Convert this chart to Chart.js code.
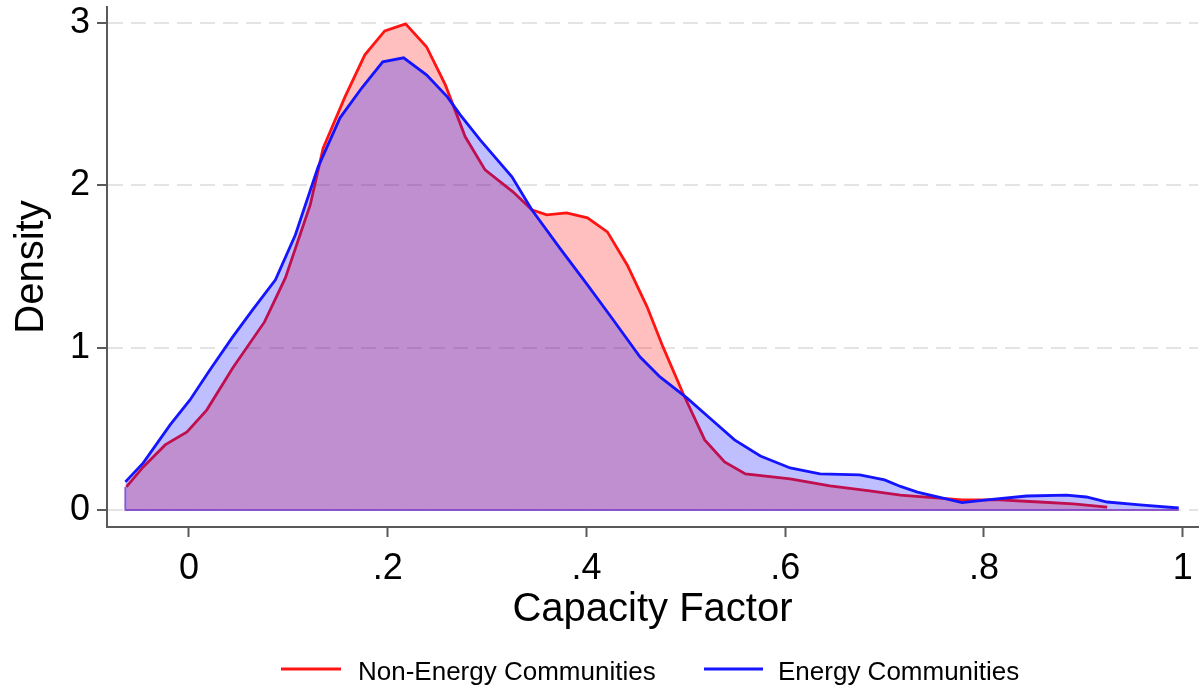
<!DOCTYPE html>
<html>
<head>
<meta charset="utf-8">
<script src="https://cdn.jsdelivr.net/npm/chart.js@4.4.1/dist/chart.umd.min.js"></script>
<style>
  html, body { margin: 0; padding: 0; background: #ffffff; }
  #wrap { width: 1203px; height: 691px; }
</style>
</head>
<body>
<div id="wrap"><canvas id="c" width="1203" height="691"></canvas></div>
<script>
// Kernel density of capacity factor, by community type
const capacityNonEC = [-0.063, -0.046, -0.024, -0.002, 0.018, 0.044, 0.076, 0.097, 0.122, 0.135, 0.157, 0.177, 0.197, 0.218, 0.239, 0.258, 0.278, 0.298, 0.326, 0.345, 0.360, 0.380, 0.401, 0.421, 0.441, 0.461, 0.477, 0.497, 0.519, 0.539, 0.560, 0.605, 0.645, 0.685, 0.716, 0.778, 0.816, 0.856, 0.890, 0.924];
const densityNonEC  = [0.142, 0.265, 0.401, 0.481, 0.617, 0.875, 1.159, 1.430, 1.880, 2.230, 2.546, 2.805, 2.953, 2.996, 2.855, 2.620, 2.300, 2.096, 1.961, 1.850, 1.819, 1.831, 1.800, 1.714, 1.510, 1.252, 1.005, 0.721, 0.432, 0.296, 0.222, 0.191, 0.148, 0.117, 0.092, 0.062, 0.062, 0.049, 0.037, 0.018];

const capacityEC = [-0.064, -0.046, -0.019, 0.001, 0.021, 0.044, 0.064, 0.087, 0.107, 0.130, 0.152, 0.174, 0.195, 0.216, 0.239, 0.260, 0.273, 0.293, 0.325, 0.345, 0.373, 0.401, 0.427, 0.454, 0.474, 0.501, 0.524, 0.549, 0.575, 0.605, 0.635, 0.675, 0.700, 0.716, 0.733, 0.778, 0.803, 0.843, 0.883, 0.903, 0.924, 0.957, 0.996];
const densityEC   = [0.173, 0.290, 0.524, 0.678, 0.863, 1.067, 1.233, 1.418, 1.695, 2.115, 2.417, 2.602, 2.762, 2.787, 2.682, 2.546, 2.435, 2.281, 2.053, 1.850, 1.615, 1.387, 1.171, 0.943, 0.820, 0.691, 0.567, 0.432, 0.333, 0.259, 0.222, 0.216, 0.185, 0.145, 0.110, 0.045, 0.062, 0.086, 0.092, 0.080, 0.049, 0.031, 0.012];

const seriesNames = ['Non-Energy Communities', 'Energy Communities'];
const xTickValues = [0, 0.2, 0.4, 0.6, 0.8, 1];
const xTickLabels = ['0', '.2', '.4', '.6', '.8', '1'];
const yTickValues = [0, 1, 2, 3];
const yTickLabels = ['0', '1', '2', '3'];
const xTitle = 'Capacity Factor';
const yTitle = 'Density';

const FONT = "'Liberation Sans', Arial, sans-serif";
const RED = 'rgb(255, 20, 20)';
const BLUE = 'rgb(20, 20, 255)';
const AXIS = '#5a5a5a';

const toPoints = (xs, ys) => xs.map((x, i) => ({ x: x, y: ys[i] }));

// outline along the bottom and left edge of the shaded areas
const xLo = Math.min(capacityNonEC[0], capacityEC[0]);
const xHi = Math.max(capacityNonEC[capacityNonEC.length - 1], capacityEC[capacityEC.length - 1]);
const baseOutline = [
  { x: xLo, y: Math.min(densityNonEC[0], densityEC[0]) },
  { x: xLo, y: 0 },
  { x: xHi, y: 0 }
];

const titlesAndLegend = {
  id: 'titlesAndLegend',
  afterDraw(chart) {
    const ctx = chart.ctx;
    const area = chart.chartArea;
    ctx.save();
    ctx.fillStyle = '#000';
    // x axis title
    ctx.font = '40px ' + FONT;
    ctx.textAlign = 'center';
    ctx.textBaseline = 'alphabetic';
    ctx.fillText(xTitle, (area.left + area.right) / 2, 621);
    // y axis title
    ctx.save();
    ctx.translate(43, (area.top + area.bottom) / 2);
    ctx.rotate(-Math.PI / 2);
    ctx.fillText(yTitle, 0, 0);
    ctx.restore();
    // legend
    const entries = [
      { name: seriesNames[0], color: RED, x0: 281, x1: 341, tx: 358 },
      { name: seriesNames[1], color: BLUE, x0: 704, x1: 763, tx: 778 }
    ];
    ctx.font = '26px ' + FONT;
    ctx.textAlign = 'left';
    entries.forEach(e => {
      ctx.strokeStyle = e.color;
      ctx.lineWidth = 3;
      ctx.beginPath();
      ctx.moveTo(e.x0, 669);
      ctx.lineTo(e.x1, 669);
      ctx.stroke();
      ctx.fillStyle = '#000';
      ctx.fillText(e.name, e.tx, 680);
    });
    ctx.restore();
  }
};

new Chart(document.getElementById('c'), {
  type: 'line',
  data: {
    datasets: [
      {
        label: 'outline',
        data: baseOutline,
        borderColor: 'rgba(130, 70, 200, 0.9)',
        borderWidth: 2,
        pointRadius: 0,
        fill: false,
        tension: 0
      },
      {
        label: seriesNames[1],
        data: toPoints(capacityEC, densityEC),
        borderColor: BLUE,
        backgroundColor: 'rgba(0, 0, 255, 0.25)',
        borderWidth: 2.8,
        pointRadius: 0,
        fill: 'origin',
        tension: 0
      },
      {
        label: seriesNames[0],
        data: toPoints(capacityNonEC, densityNonEC),
        borderColor: RED,
        backgroundColor: 'rgba(255, 0, 0, 0.25)',
        borderWidth: 2.8,
        pointRadius: 0,
        fill: 'origin',
        tension: 0
      }
    ]
  },
  options: {
    responsive: false,
    animation: false,
    devicePixelRatio: 1,
    layout: { padding: { left: 0, right: 5, top: 7, bottom: 0 } },
    plugins: {
      legend: { display: false },
      tooltip: { enabled: false }
    },
    scales: {
      x: {
        type: 'linear',
        min: -0.0825,
        max: 1.0154,
        afterBuildTicks: s => { s.ticks = xTickValues.map(v => ({ value: v })); },
        afterFit: s => { s.height = 164; s.paddingLeft = 0; s.paddingRight = 0; },
        ticks: {
          callback: (v, i) => xTickLabels[i],
          font: { family: FONT, size: 36 },
          color: '#000',
          padding: 10,
          maxRotation: 0,
          autoSkip: false
        },
        grid: {
          drawOnChartArea: false,
          drawTicks: true,
          tickLength: 10,
          tickColor: AXIS,
          tickWidth: 2
        },
        border: { display: true, color: AXIS, width: 2 }
      },
      y: {
        type: 'linear',
        min: -0.105,
        max: 3.1,
        afterBuildTicks: s => { s.ticks = yTickValues.map(v => ({ value: v })); },
        afterFit: s => { s.width = 107; s.paddingTop = 0; s.paddingBottom = 0; },
        ticks: {
          callback: (v, i) => yTickLabels[i],
          font: { family: FONT, size: 36 },
          color: '#000',
          padding: 7,
          autoSkip: false
        },
        grid: {
          color: '#e4e4e4',
          lineWidth: 2,
          drawTicks: true,
          tickLength: 10,
          tickColor: AXIS,
          tickWidth: 2
        },
        border: { display: true, color: AXIS, width: 2, dash: [15, 8] }
      }
    }
  },
  plugins: [titlesAndLegend]
});
</script>
</body>
</html>
